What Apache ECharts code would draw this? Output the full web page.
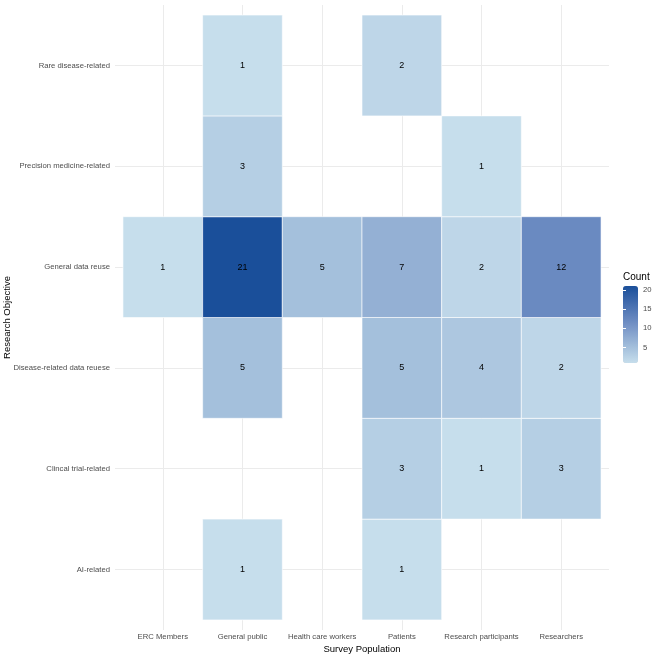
<!DOCTYPE html>
<html>
<head>
<meta charset="utf-8">
<script src="https://cdn.jsdelivr.net/npm/echarts@6/dist/echarts.min.js"></script>
<style>
  html, body { margin: 0; padding: 0; background: #fff; }
  #chart { width: 662px; height: 658px; }
</style>
</head>
<body>
<div id="chart"></div>
<script>
// categories
const populations = ["ERC Members", "General public", "Health care workers", "Patients", "Research participants", "Researchers"];
// bottom -> top
const objectives = ["AI-related", "Clincal trial-related", "Disease-related data reuese", "General data reuse", "Precision medicine-related", "Rare disease-related"];

// counts per objective, in order of populations (null = no cell)
const aiRelated = [null, 1, null, 1, null, null];
const clinicalTrial = [null, null, null, 3, 1, 3];
const diseaseReuse = [null, 5, null, 5, 4, 2];
const generalReuse = [1, 21, 5, 7, 2, 12];
const precisionMedicine = [null, 3, null, null, 1, null];
const rareDisease = [null, 1, null, 2, null, null];

const rows = [aiRelated, clinicalTrial, diseaseReuse, generalReuse, precisionMedicine, rareDisease];

// legend tick values
const legendTicks = [5, 10, 15, 20];
const countMin = 1;
const countMax = 21;

const fontFamily = "Liberation Sans, Arial, Helvetica, sans-serif";
const idx = populations.map((_, i) => i);

// [x, y, value]
const cells = [];
rows.forEach((row, y) => {
  row.forEach((v, x) => {
    if (v != null) cells.push([x, y, v]);
  });
});

const chart = echarts.init(document.getElementById("chart"), null, { renderer: "canvas" });

chart.setOption({
  animation: false,
  textStyle: { fontFamily: fontFamily },
  title: {
    text: "Count",
    left: 623,
    top: 272,
    padding: 0,
    textStyle: { fontSize: 10, fontWeight: "normal", color: "#000", fontFamily: fontFamily }
  },
  grid: [
    { left: 115, right: 53, top: 5, bottom: 28, outerBoundsMode: "none", containLabel: false },
    // colour bar ticks
    { left: 623, top: 286, width: 15, height: 77, outerBoundsMode: "none", containLabel: false }
  ],
  xAxis: [
    {
      type: "value",
      gridIndex: 0,
      min: -0.6,
      max: 5.6,
      name: "Survey Population",
      nameLocation: "middle",
      nameGap: 14,
      nameMoveOverlap: false,
      nameTextStyle: { fontSize: 9.5, color: "#000" },
      axisLine: { show: false },
      axisTick: { show: false, customValues: idx },
      axisLabel: {
        customValues: idx,
        fontSize: 7.7,
        color: "#4d4d4d",
        margin: 3,
        formatter: (v) => populations[Math.round(v)] || ""
      },
      splitLine: { show: true, lineStyle: { color: "#ebebeb", width: 1 } }
    },
    { type: "value", gridIndex: 1, show: false, min: 0, max: 1 }
  ],
  yAxis: [
    {
      type: "value",
      gridIndex: 0,
      min: -0.6,
      max: 5.6,
      name: "Research Objective",
      nameLocation: "middle",
      nameRotate: 90,
      nameGap: 103,
      nameMoveOverlap: false,
      nameTextStyle: { fontSize: 9.5, color: "#000" },
      axisLine: { show: false },
      axisTick: { show: false, customValues: idx },
      axisLabel: {
        customValues: idx,
        fontSize: 7.7,
        color: "#4d4d4d",
        margin: 5,
        formatter: (v) => objectives[Math.round(v)] || ""
      },
      splitLine: { show: true, lineStyle: { color: "#ebebeb", width: 1 } }
    },
    {
      type: "value",
      gridIndex: 1,
      position: "right",
      min: countMin,
      max: countMax,
      z: 10,
      axisLine: { show: false },
      axisTick: { show: true, inside: true, length: 3, customValues: legendTicks, lineStyle: { color: "#fff", width: 1 } },
      axisLabel: { customValues: legendTicks, fontSize: 7.7, color: "#4d4d4d", margin: 5 },
      splitLine: { show: false }
    },
    {
      type: "value",
      gridIndex: 1,
      position: "left",
      min: countMin,
      max: countMax,
      z: 10,
      axisLine: { show: false },
      axisTick: { show: true, inside: true, length: 3, customValues: legendTicks, lineStyle: { color: "#fff", width: 1 } },
      axisLabel: { show: false },
      splitLine: { show: false }
    }
  ],
  visualMap: {
    type: "continuous",
    seriesIndex: 0,
    dimension: 2,
    min: countMin,
    max: countMax,
    calculable: false,
    left: 623,
    top: 286,
    itemWidth: 15,
    itemHeight: 77,
    padding: 0,
    text: null,
    showLabel: false,
    inRange: {
      color: ["#c6deec", "#9cb8d8", "#7391c5", "#4870b0", "#1a4f9a"]
    }
  },
  series: [
    {
      type: "custom",
      xAxisIndex: 0,
      yAxisIndex: 0,
      data: cells,
      renderItem: (params, api) => {
        const x = api.value(0);
        const y = api.value(1);
        const p0 = api.coord([x - 0.5, y + 0.5]);
        const p1 = api.coord([x + 0.5, y - 0.5]);
        const c = api.coord([x, y]);
        return {
          type: "group",
          children: [
            {
              type: "rect",
              shape: { x: p0[0], y: p0[1], width: p1[0] - p0[0], height: p1[1] - p0[1] },
              style: { fill: api.visual("color"), stroke: "#ffffff", lineWidth: 0.6 }
            },
            {
              type: "text",
              x: c[0],
              y: c[1],
              style: {
                text: String(api.value(2)),
                fill: "#000",
                fontSize: 9,
                fontFamily: fontFamily,
                align: "center",
                verticalAlign: "middle"
              }
            }
          ]
        };
      }
    }
  ]
});
</script>
</body>
</html>
